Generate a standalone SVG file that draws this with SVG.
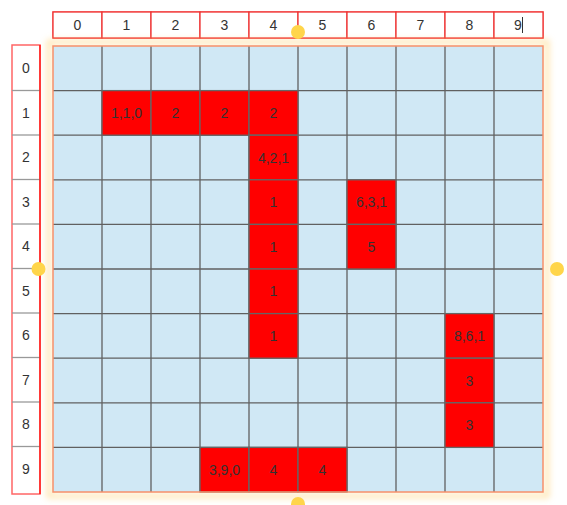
<svg xmlns="http://www.w3.org/2000/svg" width="567" height="505" viewBox="0 0 567 505">
<defs>
<style>
.t{font-family:"Liberation Sans",Arial,sans-serif;font-size:14px;fill:#333;text-anchor:middle;dominant-baseline:central}
.hc{fill:#fff;stroke:#e33;stroke-width:1.3}
.red{fill:#ff0000;stroke:#666;stroke-width:1.3}
.h{fill:#ffd54a}
</style>
<filter id="glow" x="-10%" y="-10%" width="120%" height="120%">
<feGaussianBlur stdDeviation="3"/>
</filter>
</defs>
<rect width="567" height="505" fill="#fff"/>
<g id="colHeader">
<rect x="53" y="12" width="490" height="26" fill="#fff" stroke="#f66" stroke-width="1.5"/>
<g id="colheads">
<rect class="hc" x="53" y="12" width="49" height="26"/><text class="t" x="77.5" y="25">0</text>
<rect class="hc" x="102" y="12" width="49" height="26"/><text class="t" x="126.5" y="25">1</text>
<rect class="hc" x="151" y="12" width="49" height="26"/><text class="t" x="175.5" y="25">2</text>
<rect class="hc" x="200" y="12" width="49" height="26"/><text class="t" x="224.5" y="25">3</text>
<rect class="hc" x="249" y="12" width="49" height="26"/><text class="t" x="273.5" y="25">4</text>
<rect class="hc" x="298" y="12" width="49" height="26"/><text class="t" x="322.5" y="25">5</text>
<rect class="hc" x="347" y="12" width="49" height="26"/><text class="t" x="371.5" y="25">6</text>
<rect class="hc" x="396" y="12" width="49" height="26"/><text class="t" x="420.5" y="25">7</text>
<rect class="hc" x="445" y="12" width="49" height="26"/><text class="t" x="469.5" y="25">8</text>
<rect class="hc" x="494" y="12" width="49" height="26"/><text class="t" x="518" y="25">9</text>
<line x1="522.5" y1="17" x2="522.5" y2="33" stroke="#333" stroke-width="1"/>
</g>
</g>
<g id="rowHeader">
<rect x="12" y="45" width="28" height="449" fill="#fff" stroke="#f66" stroke-width="1.5"/>
<g stroke="#999" stroke-width="1.3">
<line x1="12" y1="90.5" x2="40" y2="90.5"/>
<line x1="12" y1="135" x2="40" y2="135"/>
<line x1="12" y1="179.5" x2="40" y2="179.5"/>
<line x1="12" y1="224" x2="40" y2="224"/>
<line x1="12" y1="268.5" x2="40" y2="268.5"/>
<line x1="12" y1="313" x2="40" y2="313"/>
<line x1="12" y1="357.5" x2="40" y2="357.5"/>
<line x1="12" y1="402" x2="40" y2="402"/>
<line x1="12" y1="446.5" x2="40" y2="446.5"/>
</g>
<line x1="40" y1="45" x2="40" y2="494" stroke="#f00" stroke-width="1.2"/>
<text class="t" x="26" y="68">0</text>
<text class="t" x="26" y="112.5">1</text>
<text class="t" x="26" y="157">2</text>
<text class="t" x="26" y="201.5">3</text>
<text class="t" x="26" y="246">4</text>
<text class="t" x="26" y="290.5">5</text>
<text class="t" x="26" y="335">6</text>
<text class="t" x="26" y="379.5">7</text>
<text class="t" x="26" y="424">8</text>
<text class="t" x="26" y="468.5">9</text>
</g>
<g id="grid">
<rect x="49" y="42" width="498" height="454" fill="none" stroke="#ffd070" stroke-width="5" opacity="0.5" filter="url(#glow)"/>
<rect x="53" y="46" width="490" height="446" fill="#d0e8f5"/>
<g stroke="#606060" stroke-width="1.3">
<line x1="102" y1="46" x2="102" y2="492"/>
<line x1="151" y1="46" x2="151" y2="492"/>
<line x1="200" y1="46" x2="200" y2="492"/>
<line x1="249" y1="46" x2="249" y2="492"/>
<line x1="298" y1="46" x2="298" y2="492"/>
<line x1="347" y1="46" x2="347" y2="492"/>
<line x1="396" y1="46" x2="396" y2="492"/>
<line x1="445" y1="46" x2="445" y2="492"/>
<line x1="494" y1="46" x2="494" y2="492"/>
<line x1="53" y1="90.6" x2="543" y2="90.6"/>
<line x1="53" y1="135.2" x2="543" y2="135.2"/>
<line x1="53" y1="179.8" x2="543" y2="179.8"/>
<line x1="53" y1="224.4" x2="543" y2="224.4"/>
<line x1="53" y1="269" x2="543" y2="269"/>
<line x1="53" y1="313.6" x2="543" y2="313.6"/>
<line x1="53" y1="358.2" x2="543" y2="358.2"/>
<line x1="53" y1="402.8" x2="543" y2="402.8"/>
<line x1="53" y1="447.4" x2="543" y2="447.4"/>
</g>
<g id="redCells">
<rect class="red" x="102" y="90.6" width="49" height="44.6"/><text class="t" x="126.5" y="113">1,1,0</text>
<rect class="red" x="151" y="90.6" width="49" height="44.6"/><text class="t" x="175.5" y="113">2</text>
<rect class="red" x="200" y="90.6" width="49" height="44.6"/><text class="t" x="224.5" y="113">2</text>
<rect class="red" x="249" y="90.6" width="49" height="44.6"/><text class="t" x="273.5" y="113">2</text>
<rect class="red" x="249" y="135.2" width="49" height="44.6"/><text class="t" x="273.5" y="157.5">4,2,1</text>
<rect class="red" x="249" y="179.8" width="49" height="44.6"/><text class="t" x="273.5" y="202">1</text>
<rect class="red" x="347" y="179.8" width="49" height="44.6"/><text class="t" x="371.5" y="202">6,3,1</text>
<rect class="red" x="249" y="224.4" width="49" height="44.6"/><text class="t" x="273.5" y="246.7">1</text>
<rect class="red" x="347" y="224.4" width="49" height="44.6"/><text class="t" x="371.5" y="246.7">5</text>
<rect class="red" x="249" y="269" width="49" height="44.6"/><text class="t" x="273.5" y="291.3">1</text>
<rect class="red" x="249" y="313.6" width="49" height="44.6"/><text class="t" x="273.5" y="335.9">1</text>
<rect class="red" x="445" y="313.6" width="49" height="44.6"/><text class="t" x="469.5" y="335.9">8,6,1</text>
<rect class="red" x="445" y="358.2" width="49" height="44.6"/><text class="t" x="469.5" y="380.5">3</text>
<rect class="red" x="445" y="402.8" width="49" height="44.6"/><text class="t" x="469.5" y="425.1">3</text>
<rect class="red" x="200" y="447.4" width="49" height="44.6"/><text class="t" x="224.5" y="469.7">3,9,0</text>
<rect class="red" x="249" y="447.4" width="49" height="44.6"/><text class="t" x="273.5" y="469.7">4</text>
<rect class="red" x="298" y="447.4" width="49" height="44.6"/><text class="t" x="322.5" y="469.7">4</text>
</g>
<rect x="53" y="46" width="490" height="446" fill="none" stroke="#f7906a" stroke-width="1.5"/>
</g>
<g id="handles">
<circle class="h" cx="298" cy="32" r="7"/>
<circle class="h" cx="38.5" cy="269" r="7"/>
<circle class="h" cx="557" cy="269" r="7"/>
<circle class="h" cx="298" cy="504" r="7"/>
</g>
</svg>
